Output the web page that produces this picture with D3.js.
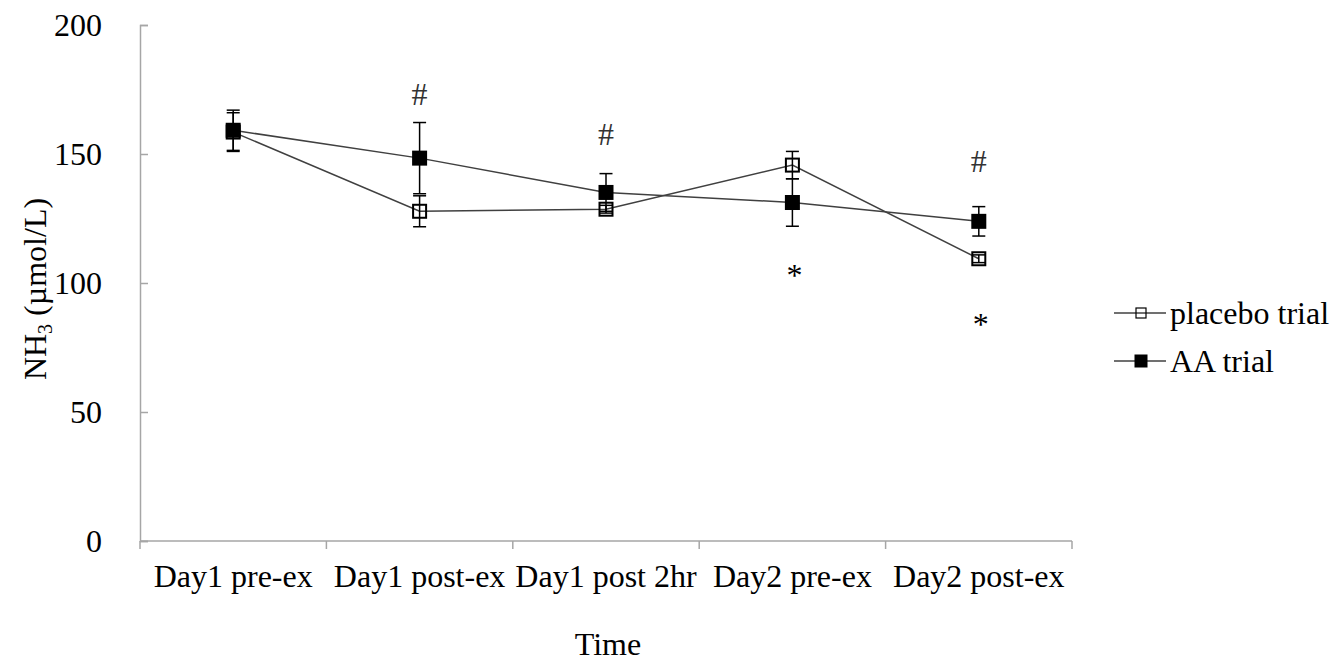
<!DOCTYPE html>
<html>
<head>
<meta charset="utf-8">
<script src="https://cdn.jsdelivr.net/npm/d3@7"></script>
<style>
    body { margin: 0; background: #fff; }
    svg text { font-family: "Liberation Serif", "Times New Roman", serif; fill: #000; }
</style>
</head>
<body>
<div id="chart"></div>
<script>
// Data
const categories = ['Day1 pre-ex', 'Day1 post-ex', 'Day1 post 2hr', 'Day2 pre-ex', 'Day2 post-ex'];
const placeboMean = [158.5, 127.8, 128.6, 145.7, 109.4];
const placeboErr = [7.5, 6.0, 1.5, 5.3, 1.5];
const aaMean = [159.2, 148.4, 135.1, 131.2, 123.9];
const aaErr = [7.8, 13.8, 7.3, 9.2, 5.7];
const yTicks = [0, 50, 100, 150, 200];
const hashMarks = [null, 173.5, 158, null, 147.5];
const starMarks = [null, null, null, 104, 85];

const WIDTH = 1335;
const HEIGHT = 662;
const margin = { top: 25, right: 263, bottom: 121, left: 140 };
const plotW = WIDTH - margin.left - margin.right;
const plotH = HEIGHT - margin.top - margin.bottom;
const AXIS_COLOR = '#a6a6a6';
const LINE_COLOR = '#404040';
const FONT = '32px';

const svg = d3.select('#chart')
    .append('svg')
    .attr('width', WIDTH)
    .attr('height', HEIGHT);

const g = svg.append('g')
    .attr('transform', `translate(${margin.left},${margin.top})`);

const x = d3.scaleBand()
    .domain(categories)
    .range([0, plotW]);

const y = d3.scaleLinear()
    .domain([0, 200])
    .range([plotH, 0]);

const cx = i => x(categories[i]) + x.bandwidth() / 2;

// Y axis with ticks pointing inward
const yAxis = g.append('g')
    .call(d3.axisRight(y).tickValues(yTicks).tickSize(8).tickFormat(''));
yAxis.select('.domain').attr('stroke', AXIS_COLOR).attr('stroke-width', 1.5);
yAxis.selectAll('.tick line').attr('stroke', AXIS_COLOR).attr('stroke-width', 1.5);

g.selectAll('.y-label')
    .data(yTicks)
    .enter()
    .append('text')
    .attr('class', 'y-label')
    .attr('x', -38)
    .attr('y', d => y(d))
    .attr('dy', '0.33em')
    .attr('text-anchor', 'end')
    .style('font-size', FONT)
    .text(d => d);

// X axis, ticks at band boundaries
const xBounds = categories.map(c => x(c)).concat([plotW]);
const xAxisG = g.append('g').attr('transform', `translate(0,${plotH})`);
xAxisG.append('line')
    .attr('x1', 0).attr('x2', plotW)
    .attr('stroke', AXIS_COLOR).attr('stroke-width', 1.5);
xAxisG.selectAll('.x-tick')
    .data(xBounds)
    .enter()
    .append('line')
    .attr('x1', d => d).attr('x2', d => d)
    .attr('y1', 0).attr('y2', 8)
    .attr('stroke', AXIS_COLOR).attr('stroke-width', 1.5);
xAxisG.selectAll('.x-label')
    .data(categories)
    .enter()
    .append('text')
    .attr('x', d => x(d) + x.bandwidth() / 2)
    .attr('y', 46)
    .attr('text-anchor', 'middle')
    .style('font-size', FONT)
    .text(d => d);

// Axis titles
g.append('text')
    .attr('x', plotW / 2 + 2)
    .attr('y', plotH + 114)
    .attr('text-anchor', 'middle')
    .style('font-size', FONT)
    .text('Time');

const yTitle = svg.append('text')
    .attr('transform', `translate(46,${margin.top + plotH / 2 + 6}) rotate(-90)`)
    .attr('text-anchor', 'middle')
    .style('font-size', FONT);
yTitle.append('tspan').text('NH');
yTitle.append('tspan').attr('dy', 6).style('font-size', '20px').text('3');
yTitle.append('tspan').attr('dy', -6).text(' (µmol/L)');

// Series
const series = [
    { name: 'placebo trial', mean: placeboMean, err: placeboErr, filled: false },
    { name: 'AA trial', mean: aaMean, err: aaErr, filled: true }
];

const line = d3.line()
    .x((d, i) => cx(i))
    .y(d => y(d));

series.forEach(s => {
    g.append('path')
        .datum(s.mean)
        .attr('fill', 'none')
        .attr('stroke', LINE_COLOR)
        .attr('stroke-width', 1.5)
        .attr('d', line);
});

series.forEach(s => {
    const eb = g.append('g');
    s.mean.forEach((m, i) => {
        const xi = cx(i);
        const top = y(m + s.err[i]);
        const bot = y(m - s.err[i]);
        eb.append('line')
            .attr('x1', xi).attr('x2', xi).attr('y1', top).attr('y2', bot)
            .attr('stroke', '#000').attr('stroke-width', 1.5);
        [top, bot].forEach(yy => {
            eb.append('line')
                .attr('x1', xi - 6.5).attr('x2', xi + 6.5).attr('y1', yy).attr('y2', yy)
                .attr('stroke', '#000').attr('stroke-width', 1.5);
        });
    });
});

function drawMarker(sel, px, py, filled, size) {
    if (filled) {
        sel.append('rect')
            .attr('x', px - size / 2).attr('y', py - size / 2)
            .attr('width', size).attr('height', size)
            .attr('fill', '#000');
    } else {
        sel.append('rect')
            .attr('x', px - size / 2).attr('y', py - size / 2)
            .attr('width', size).attr('height', size)
            .attr('fill', 'none')
            .attr('stroke', '#000')
            .attr('stroke-width', 2);
    }
}

series.forEach(s => {
    const mg = g.append('g');
    s.mean.forEach((m, i) => drawMarker(mg, cx(i), y(m), s.filled, s.filled ? 15 : 13));
});

// Significance annotations
g.selectAll('.hash')
    .data(hashMarks.map((v, i) => ({ v, i })).filter(d => d.v !== null))
    .enter()
    .append('text')
    .attr('x', d => cx(d.i))
    .attr('y', d => y(d.v))
    .attr('dy', '0.35em')
    .attr('text-anchor', 'middle')
    .style('font-size', FONT)
    .style('fill', '#333')
    .text('#');

g.selectAll('.star')
    .data(starMarks.map((v, i) => ({ v, i })).filter(d => d.v !== null))
    .enter()
    .append('text')
    .attr('x', d => cx(d.i) + 2)
    .attr('y', d => y(d.v))
    .attr('dy', '0.42em')
    .attr('text-anchor', 'middle')
    .style('font-size', FONT)
    .text('*');

// Legend
const legend = svg.append('g').attr('transform', 'translate(1114,313)');
series.forEach((s, i) => {
    const row = legend.append('g').attr('transform', `translate(0,${i * 48})`);
    row.append('line')
        .attr('x1', 0).attr('x2', 52)
        .attr('stroke', LINE_COLOR).attr('stroke-width', 1.5);
    if (s.filled) {
        drawMarker(row, 27, 0, true, 13);
    } else {
        row.append('rect')
            .attr('x', 22).attr('y', -5).attr('width', 10).attr('height', 10)
            .attr('fill', 'none').attr('stroke', '#000').attr('stroke-width', 1.2);
    }
    row.append('text')
        .attr('x', 56)
        .attr('y', 0)
        .attr('dy', '0.33em')
        .style('font-size', FONT)
        .text(s.name);
});
</script>
</body>
</html>
